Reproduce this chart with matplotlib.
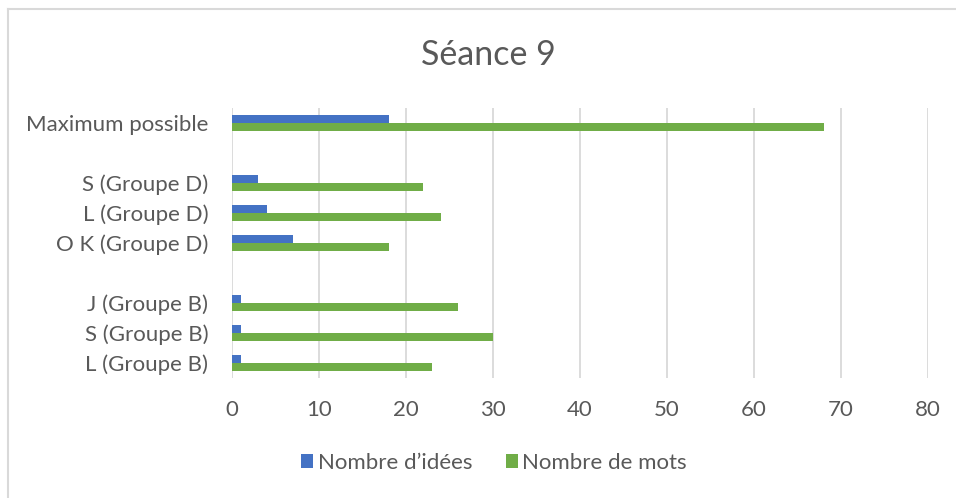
import matplotlib.pyplot as plt
from matplotlib.lines import Line2D
import numpy as np

plt.rcParams['font.family'] = ['Lato', 'DejaVu Sans']

# categories listed bottom to top; empty strings leave gaps between groups
categories = ["L (Groupe B)", "S (Groupe B)", "J (Groupe B)", "",
              "O K (Groupe D)", "L (Groupe D)", "S (Groupe D)", "",
              "Maximum possible"]
idees = [1, 1, 1, None, 7, 4, 3, None, 18]
mots = [23, 30, 26, None, 18, 24, 22, None, 68]
series_names = ["Nombre d\u2019idées", "Nombre de mots"]
xticks = [0, 10, 20, 30, 40, 50, 60, 70, 80]

BLUE = "#4472C4"
GREEN = "#70AD47"
TEXT = "#595959"
GRID = "#D9D9D9"

W, H = 956, 498
fig = plt.figure(figsize=(W / 100, H / 100), dpi=100)
ax = fig.add_axes([232 / W, 1 - 378 / H, (928 - 232) / W, 270 / H])

y = np.arange(len(categories))
bh = 0.27
idx = [i for i, v in enumerate(idees) if v is not None]
ax.barh([y[i] + bh / 2 for i in idx], [idees[i] for i in idx], height=bh,
        color=BLUE, label=series_names[0], zorder=3)
ax.barh([y[i] - bh / 2 for i in idx], [mots[i] for i in idx], height=bh,
        color=GREEN, label=series_names[1], zorder=3)

ax.set_xlim(0, 80)
ax.set_ylim(-0.5, len(categories) - 0.5)
ax.set_xticks(xticks)
ax.set_yticks(y)
ax.set_yticklabels(categories)
ax.tick_params(axis='both', length=0, labelsize=16, labelcolor=TEXT)
ax.tick_params(axis='x', pad=16)
ax.tick_params(axis='y', pad=17)
ax.grid(axis='x', color=GRID, linewidth=1.3, zorder=0)
for s in ax.spines.values():
    s.set_visible(False)

fig.text(488 / W, 1 - 55 / H, "Séance 9", ha='center', va='center',
         fontsize=24.5, color=TEXT)

fig.legend(loc='center', bbox_to_anchor=(494 / W, 1 - 463 / H), ncol=2,
           frameon=False, fontsize=16, labelcolor=TEXT,
           handlelength=0.55, handleheight=0.55, handletextpad=0.2,
           columnspacing=1.5)

# chart frame (top and left edges)
fig.add_artist(Line2D([8 / W, 1], [1 - 9 / H, 1 - 9 / H], color=GRID, lw=1.5))
fig.add_artist(Line2D([8 / W, 8 / W], [0, 1 - 9 / H], color=GRID, lw=1.5))

fig.savefig("out.png", dpi=100)
